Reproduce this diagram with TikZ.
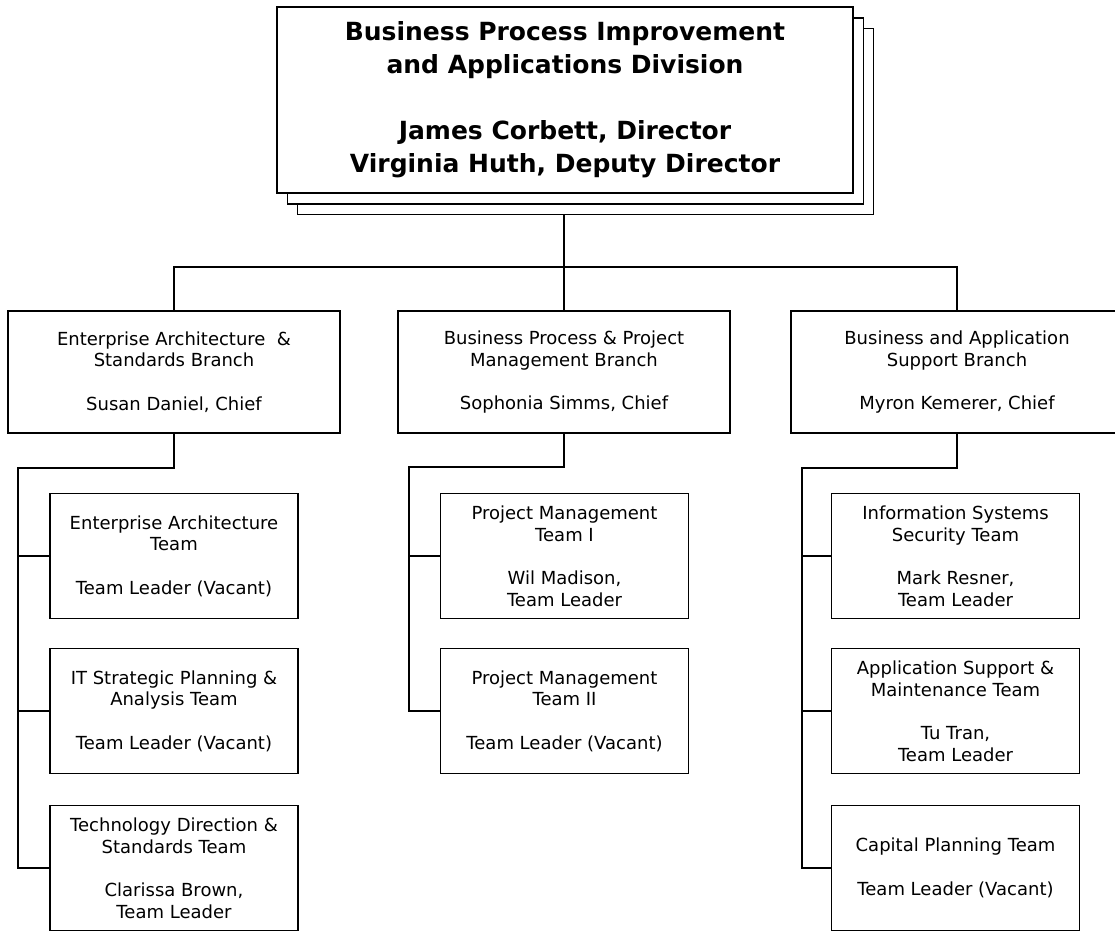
\documentclass[tikz,border=0pt]{standalone}
\usepackage{fontspec}
\setmainfont{DejaVu Sans}
\begin{document}
\begin{tikzpicture}[x=1pt,y=-1pt,
  line width=1.6pt,
  titlebox/.style={draw, fill=white, minimum width=576pt, minimum height=186pt, inner sep=0pt,
    align=center, font=\bfseries\fontsize{25}{33}\selectfont},
  branchbox/.style={draw, fill=white, minimum width=332pt, minimum height=122pt, inner sep=0pt,
    align=center, font=\fontsize{18}{21.7}\selectfont},
  teambox/.style={draw, fill=white, minimum width=248pt, minimum height=125pt, inner sep=0pt,
    align=center, font=\fontsize{18}{21.7}\selectfont},
  conn/.style={draw, line width=1.6pt}
]
\useasboundingbox (0,0) rectangle (1115,930);
\clip (0,0) rectangle (1115,930);

% title stack
\node[titlebox] (top3) at (585.5,121.5) {};
\node[titlebox] (top2) at (575.5,111) {};
\node[titlebox] (top1) at (565,100) {Business Process Improvement\\and Applications Division\\[33pt]James Corbett, Director\\Virginia Huth, Deputy Director};

% branches
\node[branchbox] (lb) at (174,372) {Enterprise Architecture~ \&\\Standards Branch\\[21.7pt]Susan Daniel, Chief};
\node[branchbox] (mb) at (564,372) {Business Process \& Project\\Management Branch\\[21.7pt]Sophonia Simms, Chief};
\node[branchbox] (rb) at (957,372) {Business and Application\\Support Branch\\[21.7pt]Myron Kemerer, Chief};

% teams
\node[teambox] (lt1) at (174,556) {Enterprise Architecture\\Team\\[21.7pt]Team Leader (Vacant)};
\node[teambox] (lt2) at (174,711) {IT Strategic Planning \&\\Analysis Team\\[21.7pt]Team Leader (Vacant)};
\node[teambox] (lt3) at (174,868) {Technology Direction \&\\Standards Team\\[21.7pt]Clarissa Brown,\\Team Leader};
\node[teambox] (mt1) at (564.5,556) {Project Management\\Team I\\[21.7pt]Wil Madison,\\Team Leader};
\node[teambox] (mt2) at (564.5,711) {Project Management\\Team II\\[21.7pt]Team Leader (Vacant)};
\node[teambox] (rt1) at (955.5,556) {Information Systems\\Security Team\\[21.7pt]Mark Resner,\\Team Leader};
\node[teambox] (rt2) at (955.5,711) {Application Support \&\\Maintenance Team\\[21.7pt]Tu Tran,\\Team Leader};
\node[teambox] (rt3) at (955.5,868) {Capital Planning Team\\[21.7pt]Team Leader (Vacant)};

% bus coordinates
\coordinate (topbus) at (564,267);
\coordinate (lbus) at (18,468);
\coordinate (mbus) at (409,467);
\coordinate (rbus) at (802,468);

% top connectors
\path[conn] (top3.south -| topbus) -- (topbus);
\path[conn] (lb.north) |- (topbus);
\path[conn] (rb.north) |- (topbus);
\path[conn] (topbus) -- (mb.north);

% left branch
\path[conn] (lb.south) |- (lbus) -- (lbus |- lt3.west) -- (lt3.west);
\path[conn] (lbus |- lt1.west) -- (lt1.west);
\path[conn] (lbus |- lt2.west) -- (lt2.west);

% middle branch
\path[conn] (mb.south) |- (mbus) -- (mbus |- mt2.west) -- (mt2.west);
\path[conn] (mbus |- mt1.west) -- (mt1.west);

% right branch
\path[conn] (rb.south) |- (rbus) -- (rbus |- rt3.west) -- (rt3.west);
\path[conn] (rbus |- rt1.west) -- (rt1.west);
\path[conn] (rbus |- rt2.west) -- (rt2.west);
\end{tikzpicture}
\end{document}
